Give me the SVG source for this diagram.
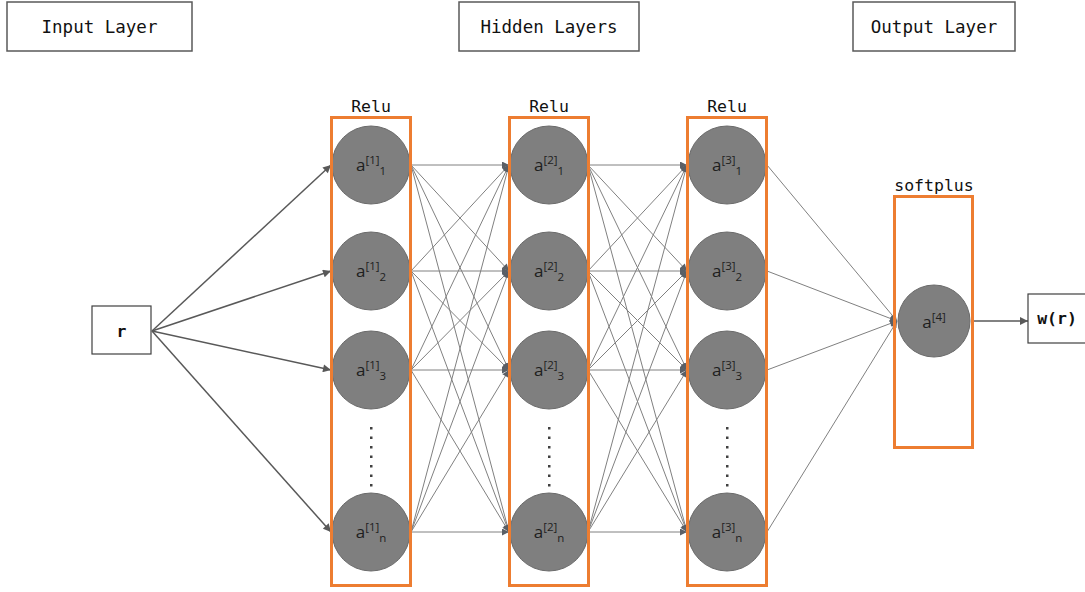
<svg xmlns="http://www.w3.org/2000/svg" width="1085" height="592" viewBox="0 0 1085 592">
<style>
.hdr{fill:#fff;stroke:#595959;stroke-width:1.5}
.hdrt{font-family:"DejaVu Sans Mono","Liberation Mono",monospace;font-size:17.5px;fill:#111;text-anchor:middle}
.act{font-family:"DejaVu Sans Mono","Liberation Mono",monospace;font-size:16.5px;fill:#111;text-anchor:middle}
.lay{fill:none;stroke:#ED7D31;stroke-width:3}
.neu{fill:#7f7f7f;stroke:#6a6a6a;stroke-width:1}
.nt{font-family:"Open Sans","Liberation Sans",sans-serif;font-size:17px;fill:#1e1e1e;text-anchor:middle}
.sm{font-size:11.5px}
.dot{fill:#404040}
.in{stroke:#595959;stroke-width:1.5;fill:none;marker-end:url(#ah)}
.hl{stroke:#808080;stroke-width:1;fill:none;marker-end:url(#ah2)}
.io{fill:#fff;stroke:#404040;stroke-width:1.2}
.iot{font-family:"DejaVu Sans Mono","Liberation Mono",monospace;font-size:16.5px;font-weight:bold;fill:#111;text-anchor:middle}
</style>
<defs>
<marker id="ah" viewBox="0 0 10 10" refX="10" refY="5" markerWidth="9" markerHeight="8" markerUnits="userSpaceOnUse" orient="auto"><path d="M0,0 L10,5 L0,10 z" fill="#595959"/></marker>
<marker id="ah2" viewBox="0 0 10 10" refX="10" refY="5" markerWidth="8" markerHeight="7" markerUnits="userSpaceOnUse" orient="auto"><path d="M0,0 L10,5 L0,10 z" fill="#5a5f66"/></marker>
</defs>
<rect width="1085" height="592" fill="#fff"/>

<g id="titles">
<g id="title-input"><rect class="hdr" x="7" y="2" width="185" height="49"/><text class="hdrt" x="99.5" y="33">Input Layer</text></g>
<g id="title-hidden"><rect class="hdr" x="459" y="2" width="180" height="49"/><text class="hdrt" x="549" y="33">Hidden Layers</text></g>
<g id="title-output"><rect class="hdr" x="853" y="2" width="162" height="49"/><text class="hdrt" x="934" y="33">Output Layer</text></g>
</g>

<g id="connectors">
<line class="in" x1="152" y1="331" x2="331" y2="165"/>
<line class="in" x1="152" y1="331" x2="331" y2="271"/>
<line class="in" x1="152" y1="331" x2="331" y2="370"/>
<line class="in" x1="152" y1="331" x2="331" y2="532"/>

<line class="hl" x1="411" y1="165" x2="509" y2="165"/>
<line class="hl" x1="411" y1="165" x2="509" y2="271"/>
<line class="hl" x1="411" y1="165" x2="509" y2="370"/>
<line class="hl" x1="411" y1="165" x2="509" y2="532"/>
<line class="hl" x1="411" y1="271" x2="509" y2="165"/>
<line class="hl" x1="411" y1="271" x2="509" y2="271"/>
<line class="hl" x1="411" y1="271" x2="509" y2="370"/>
<line class="hl" x1="411" y1="271" x2="509" y2="532"/>
<line class="hl" x1="411" y1="370" x2="509" y2="165"/>
<line class="hl" x1="411" y1="370" x2="509" y2="271"/>
<line class="hl" x1="411" y1="370" x2="509" y2="370"/>
<line class="hl" x1="411" y1="370" x2="509" y2="532"/>
<line class="hl" x1="411" y1="532" x2="509" y2="165"/>
<line class="hl" x1="411" y1="532" x2="509" y2="271"/>
<line class="hl" x1="411" y1="532" x2="509" y2="370"/>
<line class="hl" x1="411" y1="532" x2="509" y2="532"/>

<line class="hl" x1="588" y1="165" x2="687" y2="165"/>
<line class="hl" x1="588" y1="165" x2="687" y2="271"/>
<line class="hl" x1="588" y1="165" x2="687" y2="370"/>
<line class="hl" x1="588" y1="165" x2="687" y2="532"/>
<line class="hl" x1="588" y1="271" x2="687" y2="165"/>
<line class="hl" x1="588" y1="271" x2="687" y2="271"/>
<line class="hl" x1="588" y1="271" x2="687" y2="370"/>
<line class="hl" x1="588" y1="271" x2="687" y2="532"/>
<line class="hl" x1="588" y1="370" x2="687" y2="165"/>
<line class="hl" x1="588" y1="370" x2="687" y2="271"/>
<line class="hl" x1="588" y1="370" x2="687" y2="370"/>
<line class="hl" x1="588" y1="370" x2="687" y2="532"/>
<line class="hl" x1="588" y1="532" x2="687" y2="165"/>
<line class="hl" x1="588" y1="532" x2="687" y2="271"/>
<line class="hl" x1="588" y1="532" x2="687" y2="370"/>
<line class="hl" x1="588" y1="532" x2="687" y2="532"/>

<line class="hl" x1="767" y1="165" x2="897" y2="321"/>
<line class="hl" x1="767" y1="271" x2="897" y2="321"/>
<line class="hl" x1="767" y1="370" x2="897" y2="321"/>
<line class="hl" x1="767" y1="532" x2="897" y2="321"/>

<line class="in" x1="972" y1="321" x2="1028" y2="321"/>
</g>

<g id="input-r"><rect class="io" x="92" y="306" width="59" height="48"/><text class="iot" x="121.5" y="337">r</text></g>

<g id="layer1">
<text class="act" x="371" y="112">Relu</text>
<circle class="neu" cx="371" cy="165" r="39"/>
<circle class="neu" cx="371" cy="271" r="39"/>
<circle class="neu" cx="371" cy="370" r="39"/>
<circle class="neu" cx="371" cy="532" r="39"/>
<text class="nt" x="371" y="171">a<tspan class="sm" dy="-7">[1]</tspan><tspan class="sm" dy="11">1</tspan></text>
<text class="nt" x="371" y="277">a<tspan class="sm" dy="-7">[1]</tspan><tspan class="sm" dy="11">2</tspan></text>
<text class="nt" x="371" y="376">a<tspan class="sm" dy="-7">[1]</tspan><tspan class="sm" dy="11">3</tspan></text>
<text class="nt" x="371" y="538">a<tspan class="sm" dy="-7">[1]</tspan><tspan class="sm" dy="11">n</tspan></text>
<g class="dot"><rect x="370" y="427" width="2.5" height="2.5"/><rect x="370" y="436.5" width="2.5" height="2.5"/><rect x="370" y="446" width="2.5" height="2.5"/><rect x="370" y="455.5" width="2.5" height="2.5"/><rect x="370" y="465" width="2.5" height="2.5"/><rect x="370" y="474.5" width="2.5" height="2.5"/><rect x="370" y="484" width="2.5" height="2.5"/></g>
<rect class="lay" x="331.5" y="117.5" width="79" height="468"/>
</g>

<g id="layer2">
<text class="act" x="549" y="112">Relu</text>
<circle class="neu" cx="549" cy="165" r="39"/>
<circle class="neu" cx="549" cy="271" r="39"/>
<circle class="neu" cx="549" cy="370" r="39"/>
<circle class="neu" cx="549" cy="532" r="39"/>
<text class="nt" x="549" y="171">a<tspan class="sm" dy="-7">[2]</tspan><tspan class="sm" dy="11">1</tspan></text>
<text class="nt" x="549" y="277">a<tspan class="sm" dy="-7">[2]</tspan><tspan class="sm" dy="11">2</tspan></text>
<text class="nt" x="549" y="376">a<tspan class="sm" dy="-7">[2]</tspan><tspan class="sm" dy="11">3</tspan></text>
<text class="nt" x="549" y="538">a<tspan class="sm" dy="-7">[2]</tspan><tspan class="sm" dy="11">n</tspan></text>
<g class="dot"><rect x="548" y="427" width="2.5" height="2.5"/><rect x="548" y="436.5" width="2.5" height="2.5"/><rect x="548" y="446" width="2.5" height="2.5"/><rect x="548" y="455.5" width="2.5" height="2.5"/><rect x="548" y="465" width="2.5" height="2.5"/><rect x="548" y="474.5" width="2.5" height="2.5"/><rect x="548" y="484" width="2.5" height="2.5"/></g>
<rect class="lay" x="509.5" y="117.5" width="79" height="468"/>
</g>

<g id="layer3">
<text class="act" x="727" y="112">Relu</text>
<circle class="neu" cx="727" cy="165" r="39"/>
<circle class="neu" cx="727" cy="271" r="39"/>
<circle class="neu" cx="727" cy="370" r="39"/>
<circle class="neu" cx="727" cy="532" r="39"/>
<text class="nt" x="727" y="171">a<tspan class="sm" dy="-7">[3]</tspan><tspan class="sm" dy="11">1</tspan></text>
<text class="nt" x="727" y="277">a<tspan class="sm" dy="-7">[3]</tspan><tspan class="sm" dy="11">2</tspan></text>
<text class="nt" x="727" y="376">a<tspan class="sm" dy="-7">[3]</tspan><tspan class="sm" dy="11">3</tspan></text>
<text class="nt" x="727" y="538">a<tspan class="sm" dy="-7">[3]</tspan><tspan class="sm" dy="11">n</tspan></text>
<g class="dot"><rect x="726" y="427" width="2.5" height="2.5"/><rect x="726" y="436.5" width="2.5" height="2.5"/><rect x="726" y="446" width="2.5" height="2.5"/><rect x="726" y="455.5" width="2.5" height="2.5"/><rect x="726" y="465" width="2.5" height="2.5"/><rect x="726" y="474.5" width="2.5" height="2.5"/><rect x="726" y="484" width="2.5" height="2.5"/></g>
<rect class="lay" x="687.5" y="117.5" width="79" height="468"/>
</g>

<g id="output-layer">
<text class="act" x="934" y="191">softplus</text>
<circle class="neu" cx="934" cy="321" r="36"/>
<text class="nt" x="934" y="328">a<tspan class="sm" dy="-7">[4]</tspan></text>
<rect class="lay" x="894.5" y="196.5" width="78" height="251"/>
</g>

<g id="output-w"><rect class="io" x="1028" y="294" width="62" height="49"/><text class="iot" x="1057" y="324">w(r)</text></g>
</svg>
